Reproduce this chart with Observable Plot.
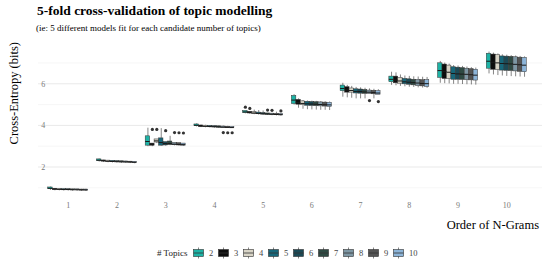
<!DOCTYPE html>
<html>
<head>
<meta charset="utf-8">
<script src="https://cdn.jsdelivr.net/npm/d3@7"></script>
<script src="https://cdn.jsdelivr.net/npm/@observablehq/plot@0.6"></script>
<style>
  html, body { margin: 0; padding: 0; background: #fff; }
  #page { position: relative; width: 542px; height: 271px; overflow: hidden; font-family: "Liberation Serif", serif; }
  #title { position: absolute; left: 37px; top: 3px; font-size: 13.5px; font-weight: bold; color: #000; white-space: nowrap; }
  #subtitle { position: absolute; left: 36px; top: 23px; font-size: 9px; color: #000; white-space: nowrap; }
  #chart { position: absolute; left: 0; top: 38px; }
  #ytitle { position: absolute; left: 14px; top: 42px; transform-origin: 0 0; transform: rotate(-90deg) translate(-100%, -50%); font-size: 12.5px; white-space: nowrap; color: #000; }
  #xtitle { position: absolute; right: 3px; top: 218px; font-size: 12.5px; white-space: nowrap; color: #000; }
  #legend { position: absolute; left: 157px; top: 247px; display: flex; align-items: center; font-size: 8.5px; color: #000; }
  #legend .lt { font-size: 9px; font-weight: normal; width: 36px; color: #222; }
  #legend .it { display: flex; align-items: center; width: 25px; }
  #legend .it span { margin-left: 5px; color: #444; }
</style>
</head>
<body>
<div id="page">
  <div id="title">5-fold cross-validation of topic modelling</div>
  <div id="subtitle">(ie: 5 different models fit for each candidate number of topics)</div>
  <div id="chart"></div>
  <div id="ytitle">Cross-Entropy (bits)</div>
  <div id="xtitle">Order of N-Grams</div>
  <div id="legend"></div>
</div>
<script>
// ---- data -------------------------------------------------------------
const ngrams = [1, 2, 3, 4, 5, 6, 7, 8, 9, 10];
const topics = [2, 3, 4, 5, 6, 7, 8, 9, 10];
const topicColors = ["#1db3a6", "#0d0d0d", "#d8d4c6", "#17677a", "#1b4a56", "#2e4a43", "#7e97a4", "#545454", "#8cb4d8"];
const yTicks = [2, 4, 6];
const yGrid = [1, 2, 3, 4, 5, 6, 7];

// five fold cross-entropy values per topic count (rows: topics 2..10)
const ngram1 = [
  [0.90, 0.96, 1.00, 1.04, 1.06], [0.88, 0.93, 0.96, 0.98, 0.99], [0.88, 0.92, 0.95, 0.97, 0.98],
  [0.87, 0.92, 0.94, 0.96, 0.97], [0.87, 0.91, 0.94, 0.96, 0.97], [0.86, 0.91, 0.93, 0.95, 0.96],
  [0.86, 0.91, 0.93, 0.95, 0.96], [0.86, 0.90, 0.92, 0.94, 0.95], [0.85, 0.90, 0.92, 0.94, 0.95]
];
const ngram2 = [
  [2.26, 2.31, 2.35, 2.39, 2.41], [2.24, 2.29, 2.32, 2.34, 2.35], [2.23, 2.28, 2.30, 2.33, 2.34],
  [2.22, 2.27, 2.29, 2.32, 2.33], [2.21, 2.26, 2.28, 2.31, 2.32], [2.20, 2.25, 2.27, 2.30, 2.31],
  [2.20, 2.24, 2.27, 2.29, 2.30], [2.19, 2.24, 2.26, 2.28, 2.29], [2.18, 2.23, 2.25, 2.27, 2.28]
];
const ngram3 = [
  [3.00, 3.05, 3.25, 3.50, 3.89], [3.00, 3.05, 3.10, 3.15, 3.83], [3.15, 3.20, 3.28, 3.35, 3.83],
  [3.02, 3.05, 3.20, 3.40, 3.87], [3.03, 3.06, 3.15, 3.22, 3.77], [3.05, 3.08, 3.15, 3.25, 3.50],
  [3.04, 3.07, 3.12, 3.18, 3.68], [3.03, 3.06, 3.11, 3.17, 3.67], [3.02, 3.05, 3.10, 3.15, 3.66]
];
const ngram4 = [
  [3.95, 3.99, 4.03, 4.07, 4.10], [3.92, 3.96, 3.99, 4.02, 4.04], [3.91, 3.95, 3.98, 4.01, 4.03],
  [3.90, 3.94, 3.97, 4.00, 4.02], [3.89, 3.93, 3.96, 3.99, 4.01], [3.88, 3.92, 3.95, 3.98, 4.00],
  [3.68, 3.91, 3.94, 3.97, 3.99], [3.67, 3.90, 3.93, 3.96, 3.98], [3.67, 3.89, 3.92, 3.95, 3.97]
];
const ngram5 = [
  [4.58, 4.62, 4.67, 4.72, 4.90], [4.56, 4.60, 4.64, 4.68, 4.84], [4.54, 4.58, 4.62, 4.66, 4.76],
  [4.52, 4.56, 4.60, 4.64, 4.74], [4.51, 4.55, 4.58, 4.62, 4.72], [4.50, 4.54, 4.57, 4.60, 4.76],
  [4.49, 4.53, 4.56, 4.59, 4.75], [4.48, 4.52, 4.55, 4.58, 4.66], [4.47, 4.51, 4.54, 4.57, 4.72]
];
const ngram6 = [
  [5.00, 5.05, 5.24, 5.44, 5.50], [4.85, 5.02, 5.12, 5.25, 5.30], [4.80, 5.00, 5.08, 5.18, 5.22],
  [4.78, 4.97, 5.06, 5.16, 5.20], [4.77, 4.96, 5.05, 5.15, 5.19], [4.76, 4.95, 5.04, 5.14, 5.18],
  [4.75, 4.94, 5.03, 5.13, 5.17], [4.75, 4.93, 5.02, 5.12, 5.16], [4.74, 4.92, 5.01, 5.11, 5.15]
];
const ngram7 = [
  [5.38, 5.67, 5.80, 5.94, 6.05], [5.35, 5.60, 5.72, 5.86, 5.95], [5.33, 5.60, 5.70, 5.80, 5.90],
  [5.30, 5.56, 5.66, 5.76, 5.85], [5.30, 5.55, 5.65, 5.75, 5.83], [5.30, 5.54, 5.63, 5.73, 5.81],
  [5.22, 5.54, 5.62, 5.70, 5.78], [5.30, 5.52, 5.60, 5.69, 5.76], [5.17, 5.50, 5.58, 5.67, 5.74]
];
const ngram8 = [
  [5.95, 6.10, 6.24, 6.37, 6.58], [5.93, 6.05, 6.20, 6.37, 6.55], [5.90, 6.03, 6.16, 6.30, 6.45],
  [5.88, 6.00, 6.12, 6.26, 6.40], [5.86, 5.98, 6.10, 6.24, 6.38], [5.85, 5.95, 6.08, 6.22, 6.36],
  [5.83, 5.92, 6.06, 6.21, 6.35], [5.82, 5.90, 6.04, 6.20, 6.34], [5.81, 5.88, 6.03, 6.20, 6.33]
];
const ngram9 = [
  [6.05, 6.31, 6.66, 7.01, 7.10], [6.03, 6.26, 6.62, 6.95, 7.02], [6.02, 6.26, 6.58, 6.90, 6.97],
  [6.00, 6.22, 6.52, 6.82, 6.90], [6.00, 6.22, 6.50, 6.80, 6.88], [5.99, 6.21, 6.49, 6.78, 6.86],
  [5.98, 6.20, 6.48, 6.75, 6.83], [5.97, 6.19, 6.46, 6.73, 6.80], [5.96, 6.18, 6.44, 6.70, 6.78]
];
const ngram10 = [
  [6.50, 6.75, 7.11, 7.47, 7.55], [6.45, 6.70, 7.06, 7.43, 7.50], [6.42, 6.69, 7.03, 7.40, 7.46],
  [6.40, 6.66, 7.00, 7.34, 7.42], [6.38, 6.65, 6.99, 7.33, 7.40], [6.37, 6.64, 6.98, 7.32, 7.38],
  [6.36, 6.62, 6.96, 7.30, 7.36], [6.35, 6.60, 6.94, 7.28, 7.34], [6.34, 6.58, 6.92, 7.27, 7.32]
];
const folds = [ngram1, ngram2, ngram3, ngram4, ngram5, ngram6, ngram7, ngram8, ngram9, ngram10];

// ---- tidy table + box statistics ------------------------------------
const rows = [];
folds.forEach((byTopic, i) => byTopic.forEach((vals, j) =>
  vals.forEach(v => rows.push({ngram: ngrams[i], topic: topics[j], value: v}))));

const stats = d3.flatGroup(rows, d => d.ngram, d => d.topic).map(([ngram, topic, ds]) => {
  const v = ds.map(d => d.value).sort(d3.ascending);
  const q1 = d3.quantileSorted(v, 0.25), med = d3.quantileSorted(v, 0.5), q3 = d3.quantileSorted(v, 0.75);
  const iqr = q3 - q1, lo = q1 - 1.5 * iqr, hi = q3 + 1.5 * iqr;
  const inside = v.filter(x => x >= lo && x <= hi);
  return {ngram, topic, q1, med, q3, wlo: d3.min(inside), whi: d3.max(inside),
          out: v.filter(x => x < lo || x > hi)};
});
const outliers = stats.flatMap(s => s.out.map(value => ({ngram: s.ngram, topic: s.topic, value})));

const [vmin, vmax] = d3.extent(rows, d => d.value);
const pad = (vmax - vmin) * 0.05;

const W = 542, H = 200, ML = 38, MR = 6, MT = 6.6, MB = 40.1;
const chart = Plot.plot({
  width: W, height: H,
  marginLeft: ML, marginRight: MR, marginTop: MT, marginBottom: MB,
  style: {fontFamily: "Liberation Serif, serif", fontSize: "8px", color: "#7a7a7a", background: "transparent"},
  x: {type: "band", domain: topics, padding: 0, round: false, axis: null},
  fx: {domain: ngrams, paddingInner: 0.18, paddingOuter: 0.2, round: false, axis: "bottom", tickSize: 0, tickPadding: 4, label: null},
  y: {domain: [vmin - pad, vmax + pad], ticks: yTicks, tickSize: 0, tickPadding: 3, label: null},
  color: {type: "ordinal", domain: topics, range: topicColors},
  marks: [
    Plot.ruleX(stats, {fx: "ngram", x: "topic", y1: "wlo", y2: "q1", stroke: "#333", strokeWidth: 0.6}),
    Plot.ruleX(stats, {fx: "ngram", x: "topic", y1: "q3", y2: "whi", stroke: "#333", strokeWidth: 0.6}),
    Plot.barY(stats, {fx: "ngram", x: "topic", y1: "q1", y2: "q3", fill: "topic", stroke: "#333", strokeWidth: 0.5}),
    Plot.tickY(stats, {fx: "ngram", x: "topic", y: "med", stroke: "#1a1a1a", strokeWidth: 1}),
    Plot.dot(outliers, {fx: "ngram", x: "topic", y: "value", r: 1.6, fill: "#333", stroke: "none"})
  ]
});
document.getElementById("chart").appendChild(chart);

// continuous background gridlines using the chart's own y scale
const ys = chart.scale("y");
const svg = d3.select(chart);
const g = svg.insert("g", ":first-child");
g.selectAll("line").data(yGrid).join("line")
  .attr("x1", ML).attr("x2", W)
  .attr("y1", d => ys.apply(d)).attr("y2", d => ys.apply(d))
  .attr("stroke", d => yTicks.includes(d) ? "#e6e6e6" : "#f0f0f0")
  .attr("stroke-width", d => yTicks.includes(d) ? 0.9 : 0.6);

// legend with box-glyph keys
const legend = d3.select("#legend");
legend.append("div").attr("class", "lt").text("# Topics");
topics.forEach((t, i) => {
  const it = legend.append("div").attr("class", "it");
  const s = it.append("svg").attr("width", 11).attr("height", 12);
  s.append("line").attr("x1", 5.5).attr("x2", 5.5).attr("y1", 0.5).attr("y2", 11.5).attr("stroke", "#333").attr("stroke-width", 0.6);
  s.append("rect").attr("x", 0.5).attr("y", 2.5).attr("width", 10).attr("height", 7).attr("fill", topicColors[i]).attr("stroke", "#333").attr("stroke-width", 0.6);
  s.append("line").attr("x1", 0.5).attr("x2", 10.5).attr("y1", 6).attr("y2", 6).attr("stroke", "#333").attr("stroke-width", 0.8);
  it.append("span").text(t);
});
</script>
</body>
</html>
